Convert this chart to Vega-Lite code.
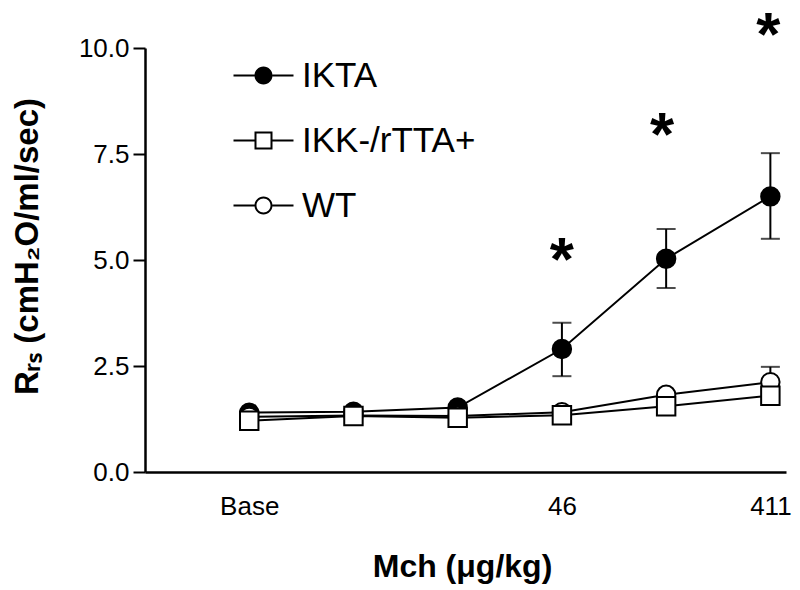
{
  "$schema": "https://vega.github.io/schema/vega-lite/v6.json",
  "autosize": "none",
  "width": 641,
  "height": 424,
  "padding": {"left": 145, "top": 48, "right": 14, "bottom": 118},
  "background": "white",
  "config": {
    "view": {"stroke": null},
    "font": "Liberation Sans",
    "axis": {"grid": false, "domainColor": "black", "tickColor": "black", "labelColor": "black", "titleColor": "black", "labelFont": "Liberation Sans", "titleFont": "Liberation Sans"},
    "legend": {"orient": "none", "legendX": 101, "legendY": 10, "padding": 0, "labelFontSize": 35, "labelFont": "Liberation Sans", "labelColor": "black", "labelLimit": 400, "rowPadding": 29, "labelOffset": 21}
  },
  "data": {"values": [
    {"series": "IKTA", "x": 0, "y": 1.40},
    {"series": "IKTA", "x": 1, "y": 1.42},
    {"series": "IKTA", "x": 2, "y": 1.52},
    {"series": "IKTA", "x": 3, "y": 2.90, "lo": 2.26, "hi": 3.52},
    {"series": "IKTA", "x": 4, "y": 5.03, "lo": 4.34, "hi": 5.73},
    {"series": "IKTA", "x": 5, "y": 6.50, "lo": 5.50, "hi": 7.52},
    {"series": "WT", "x": 0, "y": 1.30},
    {"series": "WT", "x": 1, "y": 1.33},
    {"series": "WT", "x": 2, "y": 1.32},
    {"series": "WT", "x": 3, "y": 1.41},
    {"series": "WT", "x": 4, "y": 1.82},
    {"series": "WT", "x": 5, "y": 2.12, "lo": 1.76, "hi": 2.48},
    {"series": "IKK-/rTTA+", "x": 0, "y": 1.21},
    {"series": "IKK-/rTTA+", "x": 1, "y": 1.32},
    {"series": "IKK-/rTTA+", "x": 2, "y": 1.28},
    {"series": "IKK-/rTTA+", "x": 3, "y": 1.34},
    {"series": "IKK-/rTTA+", "x": 4, "y": 1.55},
    {"series": "IKK-/rTTA+", "x": 5, "y": 1.80}
  ]},
  "encoding": {
    "x": {"field": "x", "type": "quantitative", "scale": {"domain": [-1, 5.15], "nice": false, "zero": false},
      "axis": {"values": [0, 3, 5], "labelExpr": "datum.value == 0 ? 'Base' : datum.value == 3 ? '46' : '411'", "ticks": false, "labelPadding": 21, "labelFontSize": 26, "domainWidth": 2.5, "title": "Mch (μg/kg)", "titleFontSize": 32, "titleFontWeight": "bold", "titleBaseline": "alphabetic", "titleY": 104, "titleX": 317}}
  },
  "layer": [
    {
      "mark": {"type": "line", "color": "black", "strokeWidth": 2},
      "encoding": {
        "y": {"field": "y", "type": "quantitative", "scale": {"domain": [0, 10], "nice": false},
          "axis": {"values": [0, 2.5, 5, 7.5, 10], "format": ".1f", "tickSize": 12, "tickWidth": 2, "domainWidth": 2.5, "labelFontSize": 26, "labelPadding": 4, "title": "Rᵣₛ (cmH₂O/ml/sec)", "titleFontSize": 33, "titleFontWeight": "bold", "titleAngle": -90, "titleX": -118, "titleY": 198, "titleAlign": "center", "titleBaseline": "middle"}},
        "detail": {"field": "series"}
      }
    },
    {
      "transform": [{"filter": "isValid(datum.lo)"}],
      "mark": {"type": "rule", "color": "black", "strokeWidth": 2},
      "encoding": {"y": {"field": "lo", "type": "quantitative"}, "y2": {"field": "hi"}}
    },
    {
      "transform": [{"filter": "isValid(datum.lo)"}, {"fold": ["lo", "hi"], "as": ["end", "val"]}],
      "mark": {"type": "tick", "orient": "horizontal", "color": "black", "size": 19, "thickness": 2},
      "encoding": {"y": {"field": "val", "type": "quantitative"}}
    },
    {
      "mark": {"type": "point", "filled": true, "stroke": "black", "strokeWidth": 2, "opacity": 1, "size": 340},
      "encoding": {
        "y": {"field": "y", "type": "quantitative"},
        "shape": {"field": "series", "type": "nominal", "scale": {"domain": ["IKTA", "IKK-/rTTA+", "WT"], "range": ["circle", "square", "circle"]}, "legend": null},
        "fill": {"field": "series", "type": "nominal", "scale": {"domain": ["IKTA", "IKK-/rTTA+", "WT"], "range": ["black", "white", "white"]}, "legend": null}
      }
    },
    {
      "transform": [{"filter": "datum.x < 0"}],
      "mark": {"type": "point", "filled": true, "color": "black", "opacity": 1},
      "encoding": {
        "y": {"field": "y", "type": "quantitative"},
        "shape": {"field": "series", "type": "nominal", "scale": {"domain": ["IKTA", "IKK-/rTTA+", "WT"], "range": [
          "M-3,-0.1H-0.9V0.1H-3ZM0.9,-0.1H3V0.1H0.9ZM-0.9,0A0.9,0.9,0,1,1,0.9,0A0.9,0.9,0,1,1,-0.9,0Z",
          "M-3,-0.1H-0.9V0.1H-3ZM0.9,-0.1H3V0.1H0.9ZM-0.9,-0.9H0.9V0.9H-0.9ZM-0.7,-0.7V0.7H0.7V-0.7Z",
          "M-3,-0.1H-0.9V0.1H-3ZM0.9,-0.1H3V0.1H0.9ZM-0.9,0A0.9,0.9,0,1,1,0.9,0A0.9,0.9,0,1,1,-0.9,0ZM-0.7,0A0.7,0.7,0,1,0,0.7,0A0.7,0.7,0,1,0,-0.7,0Z"
        ]}, "legend": {"title": null, "symbolSize": 400, "symbolFillColor": "black", "symbolStrokeWidth": 0}}
      }
    },
    {
      "data": {"values": [
        {"x": 3, "y": 5.31, "label": "*"},
        {"x": 3.96, "y": 8.25, "label": "*"},
        {"x": 4.98, "y": 10.61, "label": "*"}
      ]},
      "mark": {"type": "text", "fontSize": 62, "fontWeight": "bold", "font": "Liberation Sans", "color": "black", "baseline": "alphabetic", "align": "center", "dy": 33},
      "encoding": {"y": {"field": "y", "type": "quantitative"}, "text": {"field": "label"}}
    }
  ],
  "resolve": {"scale": {"shape": "independent", "fill": "independent"}}
}
